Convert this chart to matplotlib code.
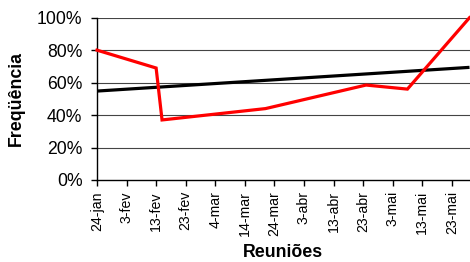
import matplotlib
matplotlib.use("Agg")
import matplotlib.pyplot as plt
import matplotlib.dates as mdates
import numpy as np

# Data
meeting_dates = ["2008-01-24", "2008-02-13", "2008-02-15", "2008-03-21",
                 "2008-04-24", "2008-05-08", "2008-05-29"]
attendance = [80.0, 69.0, 37.0, 44.0, 58.5, 56.0, 100.0]
trend_dates = ["2008-01-24", "2008-05-29"]
trend_values = [54.8, 69.4]
tick_labels = ["24-jan", "3-fev", "13-fev", "23-fev", "4-mar", "14-mar", "24-mar",
               "3-abr", "13-abr", "23-abr", "3-mai", "13-mai", "23-mai"]
y_ticks = [0, 20, 40, 60, 80, 100]

plt.rcParams['font.family'] = ['Liberation Sans', 'DejaVu Sans']

fig = plt.figure(figsize=(4.70, 2.62), dpi=100)
ax = fig.add_axes([97/470, 1 - 180/262, (469.5 - 97)/470, (180 - 17.7)/262])

x = mdates.datestr2num(meeting_dates)
xt = mdates.datestr2num(trend_dates)

for v in y_ticks[1:]:
    ax.axhline(v, color='#444444', lw=0.8, zorder=1)

ax.plot(xt, trend_values, color='black', lw=2.3, zorder=2, solid_capstyle='butt')
ax.plot(x, attendance, color='#ff0000', lw=2.3, zorder=3, clip_on=False,
        solid_joinstyle='miter')

start = mdates.datestr2num("2008-01-24")
ticks = [start + 10 * i for i in range(len(tick_labels))]
ax.set_xticks(ticks)
ax.set_xticklabels(tick_labels, rotation=90, fontsize=10.2)
ax.set_xlim(start, mdates.datestr2num("2008-05-29"))
ax.set_ylim(0, 100)
ax.set_yticks(y_ticks)
ax.set_yticklabels([f"{v}%" for v in y_ticks], fontsize=12.7)

for s in ['top', 'right']:
    ax.spines[s].set_visible(False)
for s in ['left', 'bottom']:
    ax.spines[s].set_linewidth(1.0)
    ax.spines[s].set_color('black')
ax.tick_params(axis='both', direction='out', length=4, width=1.0, color='black')
ax.tick_params(axis='y', pad=6.5)
ax.tick_params(axis='x', pad=4)

ax.set_ylabel("Freqüência", fontsize=12.8, fontweight='bold', labelpad=9)
ax.set_xlabel("Reuniões", fontsize=12.8, fontweight='bold', labelpad=6)

fig.savefig("out.png", dpi=100)
